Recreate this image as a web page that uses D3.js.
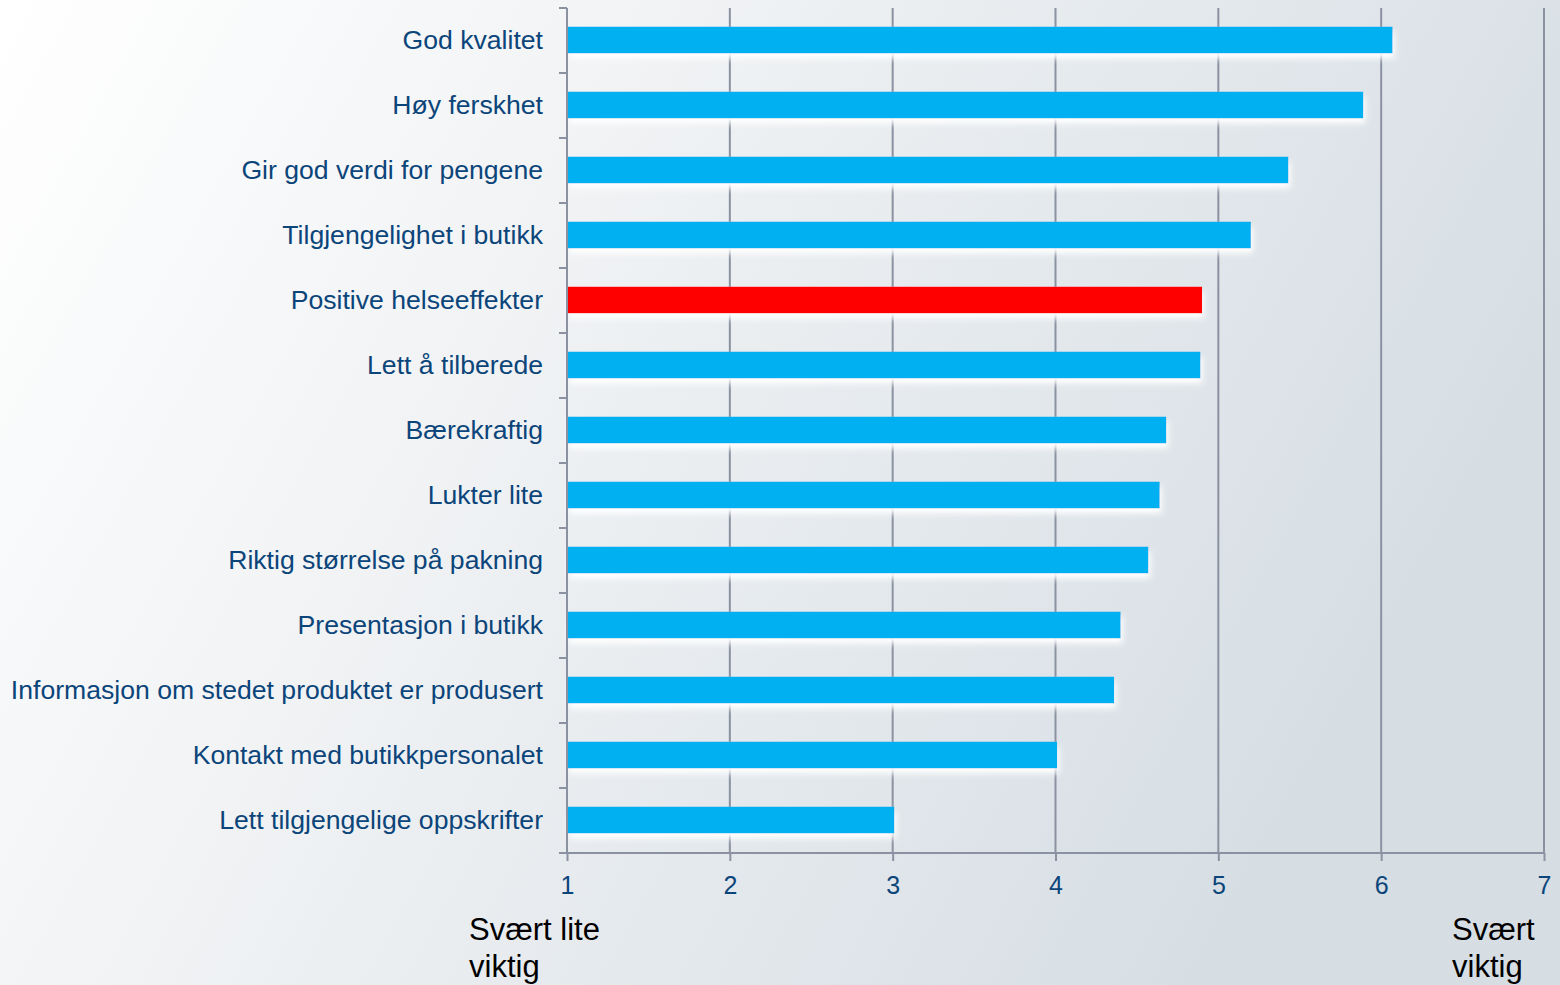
<!DOCTYPE html>
<html><head><meta charset="utf-8">
<script src="https://cdn.jsdelivr.net/npm/d3@7"></script>
<style>html,body{margin:0;padding:0;overflow:hidden;}svg{display:block;}</style>
</head><body>
<svg id="c" width="1560" height="985"></svg>
<script>
const categories = ["God kvalitet","Høy ferskhet","Gir god verdi for pengene","Tilgjengelighet i butikk","Positive helseeffekter","Lett å tilberede","Bærekraftig","Lukter lite","Riktig størrelse på pakning","Presentasjon i butikk","Informasjon om stedet produktet er produsert","Kontakt med butikkpersonalet","Lett tilgjengelige oppskrifter"];
const values = [6.07,5.89,5.43,5.20,4.90,4.89,4.68,4.64,4.57,4.40,4.36,4.01,3.01];
const highlight = ["Positive helseeffekter"];
const tickValues = [1,2,3,4,5,6,7];
const lowLabel = ["Svært lite","viktig"];
const highLabel = ["Svært","viktig"];

const W=1560,H=985;
const svg=d3.select("#c");
const defs=svg.append("defs");
const bg=defs.append("linearGradient").attr("id","bg").attr("x1","0").attr("y1","0").attr("x2","1").attr("y2","0.35");
bg.append("stop").attr("offset","0").attr("stop-color","#ffffff");
bg.append("stop").attr("offset","0.4").attr("stop-color","#f0f2f4");
bg.append("stop").attr("offset","1").attr("stop-color","#d6dee4");
const f=defs.append("filter").attr("id","sh").attr("x","-5%").attr("y","-50%").attr("width","110%").attr("height","250%");
f.append("feDropShadow").attr("dx",2).attr("dy",5).attr("stdDeviation",3).attr("flood-color","#ffffff").attr("flood-opacity",1);

svg.append("rect").attr("width",W).attr("height",H).attr("fill","url(#bg)");

const x=d3.scaleLinear().domain([1,7]).range([567,1544]);
const y=d3.scaleBand().domain(categories).range([8,853]).padding(0);
const bw=y.bandwidth(), bh=bw*0.41;
const axisCol="#8a91a1", textCol="#0b457a";

// gridlines
svg.append("g").selectAll("line").data(tickValues.slice(1)).join("line")
  .attr("x1",d=>x(d)).attr("x2",d=>x(d)).attr("y1",8).attr("y2",853)
  .attr("stroke",axisCol).attr("stroke-width",2);

// bars
svg.append("g").selectAll("rect").data(categories).join("rect")
  .attr("x",x(1)).attr("y",(d)=>y(d)+(bw-bh)/2-0.5)
  .attr("width",(d,i)=>x(values[i])-x(1)).attr("height",bh)
  .attr("fill",d=>highlight.includes(d)?"#ff0000":"#00b0f0")
  .attr("filter","url(#sh)");

// x axis
const xa=svg.append("g").attr("transform","translate(0,853)")
  .call(d3.axisBottom(x).tickValues(tickValues).tickSize(8).tickPadding(15).tickFormat(d3.format("d")));
xa.select(".domain").attr("stroke",axisCol).attr("stroke-width",2).attr("d",`M${x(1)},0H${x(7)}`);
xa.selectAll(".tick line").attr("stroke",axisCol).attr("stroke-width",2);
xa.selectAll(".tick text").attr("fill",textCol).attr("font-family","Liberation Sans, Arial, sans-serif").attr("font-size",25);

// y axis
const bounds=categories.map(c=>y(c)).concat([y(categories[categories.length-1])+bw]);
const ya=svg.append("g");
ya.append("line").attr("x1",x(1)).attr("x2",x(1)).attr("y1",bounds[0]).attr("y2",bounds[bounds.length-1]).attr("stroke",axisCol).attr("stroke-width",2);
ya.selectAll("line.t").data(bounds).join("line").attr("class","t")
  .attr("x1",x(1)-8).attr("x2",x(1)).attr("y1",d=>d).attr("y2",d=>d).attr("stroke",axisCol).attr("stroke-width",2);
ya.selectAll("text").data(categories).join("text")
  .attr("x",x(1)-24).attr("y",d=>y(d)+bw/2+8.5).attr("text-anchor","end")
  .attr("fill",textCol).attr("font-family","Liberation Sans, Arial, sans-serif").attr("font-size",26.6)
  .text(d=>d);

// end labels
function lbl(lines,xx){
  const t=svg.append("text").attr("x",xx).attr("y",940).attr("fill","#000")
    .attr("font-family","Liberation Sans, Arial, sans-serif").attr("font-size",31);
  lines.forEach((l,i)=>t.append("tspan").attr("x",xx).attr("dy",i?37:0).text(l));
}
lbl(lowLabel,469);
lbl(highLabel,1452);
</script>
</body></html>
